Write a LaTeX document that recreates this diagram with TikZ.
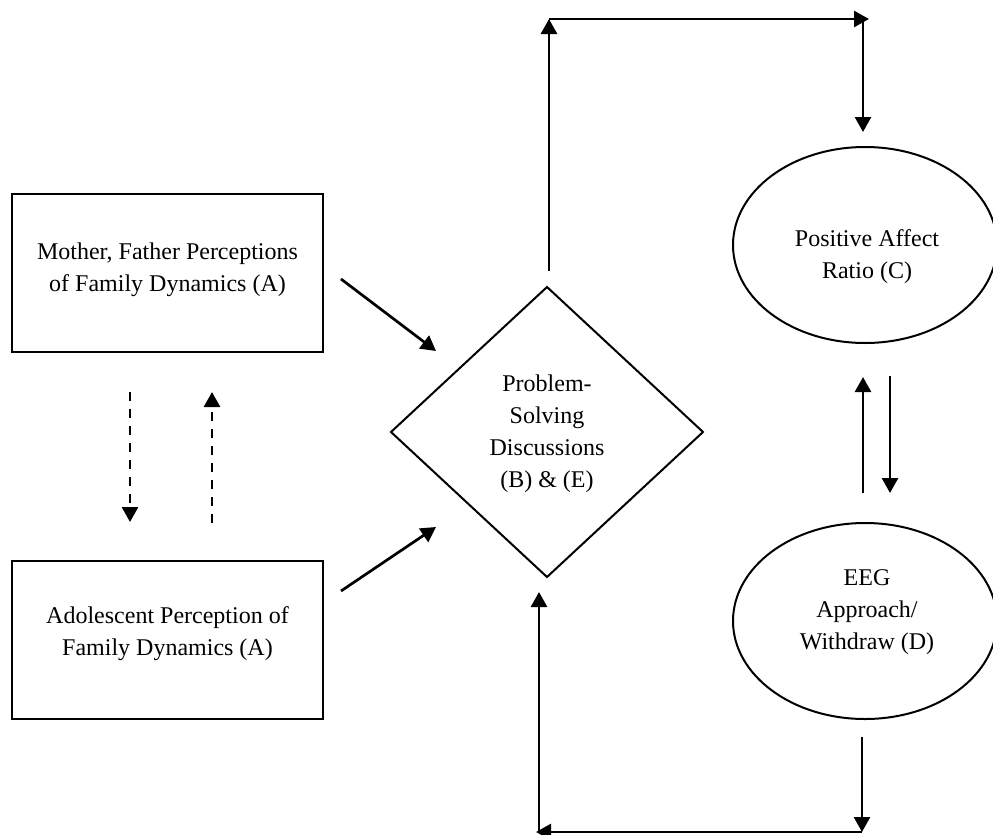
\documentclass[tikz,border=0pt]{standalone}
\usepackage{fontspec}
\setmainfont{Liberation Serif}
\usetikzlibrary{arrows.meta,shapes.geometric}
\begin{document}
\begin{tikzpicture}[x=1pt,y=-1pt,
  shapeline/.style={draw=black,line width=2pt,inner sep=0pt,outer sep=0pt},
  boxnode/.style={shapeline,rectangle,minimum width=311pt,minimum height=158pt},
  ovalnode/.style={shapeline,ellipse,minimum width=264pt,minimum height=196pt},
  diamnode/.style={shapeline,diamond,minimum width=312pt,minimum height=290pt},
  txt/.style={align=center,font=\fontsize{24}{32}\selectfont,inner sep=0pt},
  conn/.style={line width=2.7pt,-{Triangle[length=15pt,width=16pt]}},
  dconn/.style={conn,dash pattern=on 9pt off 8pt}]
\useasboundingbox (0,0) rectangle (993,835);
\clip (0,0) rectangle (993,835);
% shapes
\node[boxnode] (A1) at (167.5,273) {};
\node[txt] (A1t) at (167.5,270) {Mother, Father Perceptions\\of Family Dynamics (A)};
\node[boxnode] (A2) at (167.5,640) {};
\node[txt] (A2t) at (167.5,634) {Adolescent Perception of\\Family Dynamics (A)};
\node[diamnode] (B) at (547,432) {};
\node[txt] (Bt) at (547,434) {Problem-\\Solving\\Discussions\\(B) \& (E)};
\node[ovalnode] (C) at (865,245) {};
\node[txt] (Ct) at (867,257) {Positive Affect\\Ratio (C)};
\node[ovalnode] (D) at (865,621) {};
\node[txt] (Dt) at (867,612) {EEG\\Approach/\\Withdraw (D)};
% connector end points
\coordinate (A1out) at (341,279);
\coordinate (Bin1) at (436,351);
\coordinate (A2out) at (341,591);
\coordinate (Bin2) at (436,527);
\coordinate (A1dn) at (130,392);
\coordinate (A2up) at (130,522);
\coordinate (A2dn) at (212,523);
\coordinate (A1up) at (212,392);
\coordinate (Btop) at (549,271);
\coordinate (TL) at (549,19);
\coordinate (TR) at (869,19);
\coordinate (TRv) at (863,19);
\coordinate (Ctop) at (863,132);
\coordinate (Dup) at (863,493);
\coordinate (Cbot) at (863,377);
\coordinate (Cdn) at (890,376);
\coordinate (Dtop) at (890,493);
\coordinate (Dbot) at (862,737);
\coordinate (BR) at (862,832);
\coordinate (BL) at (536,832);
\coordinate (BLv) at (539,832);
\coordinate (Bbot) at (539,592);
% connectors
\draw[conn] (A1out) -- (Bin1);
\draw[conn] (A2out) -- (Bin2);
\draw[dconn] (A1dn) -- (A2up);
\draw[dconn] (A2dn) -- (A1up);
\draw[conn] (Btop) -- (TL);
\draw[conn] (TL) -- (TR);
\draw[conn] (TRv) -- (Ctop);
\draw[conn] (Dup) -- (Cbot);
\draw[conn] (Cdn) -- (Dtop);
\draw[conn] (Dbot) -- (BR);
\draw[conn] (BR) -- (BL);
\draw[conn] (BLv) -- (Bbot);
\end{tikzpicture}
\end{document}
